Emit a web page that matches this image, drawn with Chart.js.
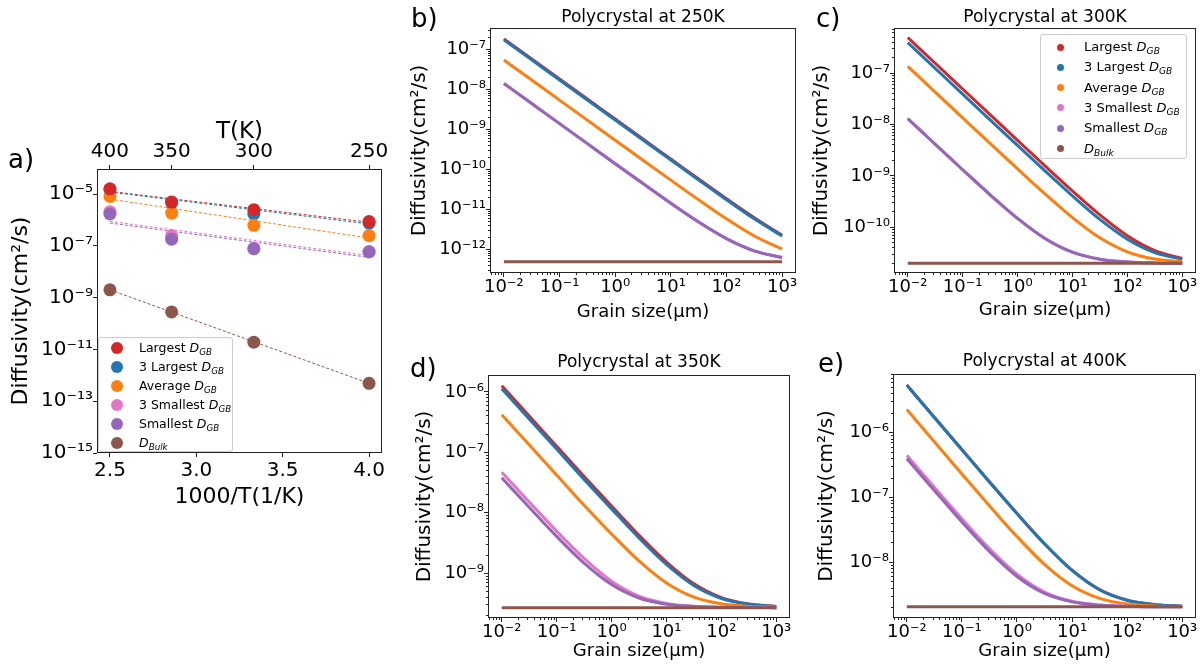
<!DOCTYPE html>
<html>
<head>
<meta charset="utf-8">
<script src="https://cdn.jsdelivr.net/npm/chart.js@4.4.1/dist/chart.umd.min.js"></script>
<style>
  body { margin: 0; background: #fff; width: 1204px; height: 672px; overflow: hidden; position: relative; font-family: "DejaVu Sans", sans-serif; }
  canvas { position: absolute; }
  .tag { position: absolute; font-size: 26px; line-height: 26px; color: #000; }
  .legend { position: absolute; box-sizing: border-box; background: rgba(255,255,255,0.8); border: 1px solid #ccc; border-radius: 3px; }
  .legend .row { position: absolute; white-space: nowrap; color: #000; }
  .legend .dot { position: absolute; border-radius: 50%; }
  .legend sub { font-size: 0.7em; vertical-align: -0.3em; line-height: 0; }
</style>
</head>
<body>
<canvas id="chartA" width="400" height="420" style="left:0;top:100px"></canvas>
<canvas id="chartB" width="400" height="330" style="left:400px;top:0"></canvas>
<canvas id="chartC" width="404" height="330" style="left:800px;top:0"></canvas>
<canvas id="chartD" width="400" height="342" style="left:400px;top:330px"></canvas>
<canvas id="chartE" width="404" height="342" style="left:800px;top:330px"></canvas>

<div class="tag" style="left:8px;top:146px">a)</div>
<div class="tag" style="left:411px;top:5px">b)</div>
<div class="tag" style="left:816px;top:5px">c)</div>
<div class="tag" style="left:410px;top:355px">d)</div>
<div class="tag" style="left:818px;top:350px">e)</div>

<div class="legend" id="legendA" style="left:98px;top:337px;width:135px;height:115px"></div>
<div class="legend" id="legendC" style="left:1040px;top:34px;width:147px;height:125px"></div>

<script>
// ═══════════════════════════════════════
// Diffusivity figure: Arrhenius plot (a) and
// grain-size dependence at 4 temperatures (b-e)
// ═══════════════════════════════════════

Chart.defaults.font.family = "'DejaVu Sans', sans-serif";
Chart.defaults.color = "#000";

// Series styling (matplotlib tab10 order)
let seriesColors = ["#d62728", "#1f77b4", "#ff7f0e", "#e377c2", "#9467bd", "#8c564b"];
let legendNames = ["Largest ", "3 Largest ", "Average ", "3 Smallest ", "Smallest ", ""];
let legendSubs = ["GB", "GB", "GB", "GB", "GB", "Bulk"];

// ── Panel a: D vs 1000/T ──
let invT = [2.5, 2.857, 3.333, 4.0];
let tempLabels = ["400", "350", "300", "250"];
let aLargest = [1.6e-5, 4.9e-6, 2.5e-6, 8.7e-7];
let a3Largest = [1.5e-5, 4.7e-6, 1.7e-6, 7.6e-7];
let aAverage = [8.1e-6, 1.85e-6, 6.2e-7, 2.5e-7];
let a3Smallest = [2.1e-6, 2.5e-7, 8.0e-8, 6.0e-8];
let aSmallest = [1.7e-6, 1.8e-7, 7.8e-8, 5.8e-8];
let aBulk = [2.0e-9, 2.8e-10, 1.9e-11, 4.9e-13];

// dashed fits, drawn between the end temperatures
let fitX = [2.5, 4.0];
let fitLargest = [1.27e-5, 8.1e-7];
let fit3Largest = [1.2e-5, 7.0e-7];
let fitAverage = [6.4e-6, 2.0e-7];
let fit3Smallest = [8.8e-7, 4.2e-8];
let fitSmallest = [7.6e-7, 3.6e-8];
let fitBulk = [2.0e-9, 4.9e-13];

let aXTicks = [2.5, 3.0, 3.5, 4.0];
let aXLabels = ["2.5", "3.0", "3.5", "4.0"];
let aYTicks = [1e-15, 1e-13, 1e-11, 1e-9, 1e-7, 1e-5];
let aYLabels = ["10⁻¹⁵", "10⁻¹³", "10⁻¹¹", "10⁻⁹", "10⁻⁷", "10⁻⁵"];

// ── Panels b-e: D vs grain size ──
let grainSize = [0.01, 0.0316, 0.1, 0.316, 1, 3.16, 10, 31.6, 100, 316, 1000];
let gsTicks = [1e-2, 1e-1, 1, 10, 100, 1000];
let gsLabels = ["10⁻²", "10⁻¹", "10⁰", "10¹", "10²", "10³"];

// 250 K
let bLargest = [1.82e-7, 5.76e-8, 1.82e-8, 5.76e-9, 1.82e-9, 5.76e-10, 1.83e-10, 5.8e-11, 1.87e-11, 6.3e-12, 2.3e-12];
let b3Largest = [1.72e-7, 5.44e-8, 1.72e-8, 5.44e-9, 1.72e-9, 5.45e-10, 1.73e-10, 5.5e-11, 1.77e-11, 5.9e-12, 2.2e-12];
let bAverage = [5.4e-8, 1.71e-8, 5.4e-9, 1.71e-9, 5.4e-10, 1.71e-10, 5.45e-11, 1.76e-11, 5.9e-12, 2.2e-12, 1.04e-12];
let b3Smallest = [1.4e-8, 4.43e-9, 1.4e-9, 4.43e-10, 1.4e-10, 4.48e-11, 1.45e-11, 4.93e-12, 1.9e-12, 9.4e-13, 6.4e-13];
let bSmallest = [1.4e-8, 4.43e-9, 1.4e-9, 4.43e-10, 1.4e-10, 4.48e-11, 1.45e-11, 4.93e-12, 1.9e-12, 9.4e-13, 6.4e-13];
let bBulk = [5e-13, 5e-13, 5e-13, 5e-13, 5e-13, 5e-13, 5e-13, 5e-13, 5e-13, 5e-13, 5e-13];
let bYTicks = [1e-12, 1e-11, 1e-10, 1e-9, 1e-8, 1e-7];
let bYLabels = ["10⁻¹²", "10⁻¹¹", "10⁻¹⁰", "10⁻⁹", "10⁻⁸", "10⁻⁷"];

// 300 K
let cLargest = [4.9e-7, 1.55e-7, 4.9e-8, 1.55e-8, 4.92e-9, 1.57e-9, 5.1e-10, 1.75e-10, 6.9e-11, 3.55e-11, 2.49e-11];
let c3Largest = [3.9e-7, 1.23e-7, 3.9e-8, 1.23e-8, 3.92e-9, 1.25e-9, 4.1e-10, 1.43e-10, 5.9e-11, 3.23e-11, 2.39e-11];
let cAverage = [1.35e-7, 4.27e-8, 1.35e-8, 4.29e-9, 1.37e-9, 4.47e-10, 1.55e-10, 6.27e-11, 3.35e-11, 2.43e-11, 2.14e-11];
let c3Smallest = [1.3e-8, 4.13e-9, 1.32e-9, 4.31e-10, 1.5e-10, 6.11e-11, 3.3e-11, 2.41e-11, 2.13e-11, 2.04e-11, 2.01e-11];
let cSmallest = [1.3e-8, 4.13e-9, 1.32e-9, 4.31e-10, 1.5e-10, 6.11e-11, 3.3e-11, 2.41e-11, 2.13e-11, 2.04e-11, 2.01e-11];
let cBulk = [2e-11, 2e-11, 2e-11, 2e-11, 2e-11, 2e-11, 2e-11, 2e-11, 2e-11, 2e-11, 2e-11];
let cYTicks = [1e-10, 1e-9, 1e-8, 1e-7];
let cYLabels = ["10⁻¹⁰", "10⁻⁹", "10⁻⁸", "10⁻⁷"];

// 350 K
let dLargest = [1.26e-6, 3.98e-7, 1.26e-7, 3.98e-8, 1.29e-8, 4.25e-9, 1.53e-9, 6.68e-10, 3.96e-10, 3.1e-10, 2.83e-10];
let d3Largest = [1.13e-6, 3.57e-7, 1.13e-7, 3.57e-8, 1.16e-8, 3.84e-9, 1.4e-9, 6.27e-10, 3.83e-10, 3.06e-10, 2.81e-10];
let dAverage = [4.2e-7, 1.33e-7, 4.2e-8, 1.33e-8, 4.47e-9, 1.6e-9, 6.9e-10, 4.03e-10, 3.12e-10, 2.83e-10, 2.74e-10];
let d3Smallest = [4.7e-8, 1.51e-8, 4.97e-9, 1.76e-9, 7.4e-10, 4.19e-10, 3.17e-10, 2.85e-10, 2.75e-10, 2.71e-10, 2.7e-10];
let dSmallest = [3.8e-8, 1.23e-8, 4.07e-9, 1.47e-9, 6.5e-10, 3.9e-10, 3.08e-10, 2.82e-10, 2.74e-10, 2.71e-10, 2.7e-10];
let dBulk = [2.7e-10, 2.7e-10, 2.7e-10, 2.7e-10, 2.7e-10, 2.7e-10, 2.7e-10, 2.7e-10, 2.7e-10, 2.7e-10, 2.7e-10];
let dYTicks = [1e-9, 1e-8, 1e-7, 1e-6];
let dYLabels = ["10⁻⁹", "10⁻⁸", "10⁻⁷", "10⁻⁶"];

// 400 K
let eLargest = [5.5e-6, 1.74e-6, 5.52e-7, 1.76e-7, 5.7e-8, 1.94e-8, 7.55e-9, 3.79e-9, 2.6e-9, 2.22e-9, 2.1e-9];
let e3Largest = [5.45e-6, 1.72e-6, 5.47e-7, 1.74e-7, 5.65e-8, 1.93e-8, 7.5e-9, 3.77e-9, 2.6e-9, 2.22e-9, 2.1e-9];
let eAverage = [2.3e-6, 7.29e-7, 2.32e-7, 7.48e-8, 2.5e-8, 9.32e-9, 4.35e-9, 2.78e-9, 2.28e-9, 2.12e-9, 2.07e-9];
let e3Smallest = [4.5e-7, 1.44e-7, 4.7e-8, 1.63e-8, 6.55e-9, 3.47e-9, 2.5e-9, 2.19e-9, 2.1e-9, 2.06e-9, 2.05e-9];
let eSmallest = [4.0e-7, 1.29e-7, 4.2e-8, 1.47e-8, 6.05e-9, 3.31e-9, 2.45e-9, 2.18e-9, 2.09e-9, 2.06e-9, 2.05e-9];
let eBulk = [2.05e-9, 2.05e-9, 2.05e-9, 2.05e-9, 2.05e-9, 2.05e-9, 2.05e-9, 2.05e-9, 2.05e-9, 2.05e-9, 2.05e-9];
let eYTicks = [1e-8, 1e-7, 1e-6];
let eYLabels = ["10⁻⁸", "10⁻⁷", "10⁻⁶"];

// ── helpers ──

// black box around the plot area (all four spines)
let frameBox = {
  id: "frameBox",
  afterDatasetsDraw(chart) {
    let a = chart.chartArea;
    let ctx = chart.ctx;
    ctx.save();
    ctx.strokeStyle = "#222";
    ctx.lineWidth = 1;
    ctx.strokeRect(Math.round(a.left) + 0.5, Math.round(a.top) + 0.5,
      Math.round(a.right - a.left) - 1, Math.round(a.bottom - a.top) - 1);
    ctx.restore();
  },
};

// tick list: labelled majors plus optional log minors (2..9 per decade)
function buildTicks(values, labels, min, max, withMinor) {
  let out = [];
  values.forEach(function (v, i) {
    if (v >= min * 0.999 && v <= max * 1.001) out.push({ value: v, major: true, text: labels[i] });
  });
  if (withMinor) {
    let lo = Math.floor(Math.log10(min));
    let hi = Math.ceil(Math.log10(max));
    for (let e = lo; e < hi; e++) {
      for (let m = 2; m <= 9; m++) {
        let v = m * Math.pow(10, e);
        if (v >= min && v <= max) out.push({ value: v, major: false, text: "" });
      }
    }
  }
  return out.sort(function (p, q) { return p.value - q.value; });
}

// axis config shared by every panel
function axisOptions(o) {
  let isLeft = o.position === "left";
  return {
    type: o.type,
    position: o.position,
    min: o.min,
    max: o.max,
    afterBuildTicks: function (s) { s.ticks = buildTicks(o.ticks, o.labels, o.min, o.max, o.minor); },
    afterFit: function (s) {
      if (isLeft) s.width = o.size;
      else s.height = o.size;
    },
    ticks: {
      autoSkip: false,
      maxRotation: 0,
      minRotation: 0,
      padding: o.tickPad,
      font: { size: o.tickFont },
      color: "#000",
      callback: function (v, i, ticks) { return ticks[i].text; },
    },
    grid: {
      drawOnChartArea: false,
      tickLength: 4,
      tickColor: "#222",
      tickWidth: 1,
      tickBorderDash: function (ctx) {
        if (!ctx.tick || ctx.tick.major) return [];
        return isLeft ? [0, 2, 2, 20] : [2, 20];
      },
    },
    border: { display: false },
    title: {
      display: !!o.title,
      text: o.title,
      font: { size: o.titleFont },
      color: "#000",
      padding: { top: o.titleTop || 0, bottom: o.titleBottom || 0 },
    },
  };
}

// HTML legend (needs subscripts, so not the Chart.js one)
function buildLegend(id, o) {
  let box = document.getElementById(id);
  legendNames.forEach(function (name, i) {
    let cy = o.firstRow + o.rowStep * i;
    let dot = document.createElement("div");
    dot.className = "dot";
    dot.style.width = o.dot + "px";
    dot.style.height = o.dot + "px";
    dot.style.left = (o.dotX - o.dot / 2) + "px";
    dot.style.top = (cy - o.dot / 2) + "px";
    dot.style.background = seriesColors[i];
    box.appendChild(dot);

    let row = document.createElement("div");
    row.className = "row";
    row.style.left = o.textX + "px";
    row.style.top = (cy - 9) + "px";
    row.style.lineHeight = "18px";
    row.style.fontSize = o.font + "px";
    row.innerHTML = name + "<i>D<sub>" + legendSubs[i] + "</sub></i>";
    box.appendChild(row);
  });
}

// ── Panel a ──
function drawArrhenius() {
  let points = [aLargest, a3Largest, aAverage, a3Smallest, aSmallest, aBulk];
  let fits = [fitLargest, fit3Largest, fitAverage, fit3Smallest, fitSmallest, fitBulk];
  let pointOrder = [0, 5, 4, 3, 1, 2];
  let datasets = [];

  points.forEach(function (vals, i) {
    datasets.push({
      data: invT.map(function (x, k) { return { x: x, y: vals[k] }; }),
      backgroundColor: seriesColors[i],
      borderWidth: 0,
      pointRadius: 6.5,
      order: pointOrder[i],
    });
  });
  fits.forEach(function (vals, i) {
    datasets.push({
      data: fitX.map(function (x, k) { return { x: x, y: vals[k] }; }),
      showLine: true,
      borderColor: seriesColors[i],
      borderWidth: 1,
      borderDash: [3, 2],
      pointRadius: 0,
      order: 20 - i,
    });
  });

  return new Chart(document.getElementById("chartA"), {
    type: "scatter",
    data: { datasets: datasets },
    options: {
      responsive: false,
      animation: false,
      events: [],
      layout: { padding: { left: 0, right: 18, top: 0, bottom: 0 } },
      plugins: { legend: { display: false }, tooltip: { enabled: false } },
      scales: {
        x: axisOptions({ type: "linear", position: "bottom", min: 2.425, max: 4.075,
          ticks: aXTicks, labels: aXLabels, size: 67, tickPad: 2, tickFont: 20,
          title: "1000/T(1/K)", titleFont: 22, titleBottom: 10 }),
        x2: axisOptions({ type: "linear", position: "top", min: 2.425, max: 4.075,
          ticks: invT, labels: tempLabels, size: 69, tickPad: 1, tickFont: 20,
          title: "T(K)", titleFont: 23, titleTop: 18.7 }),
        y: axisOptions({ type: "logarithmic", position: "left", min: 1e-15, max: 9.3e-5,
          ticks: aYTicks, labels: aYLabels, size: 97, tickPad: 0, tickFont: 20,
          title: "Diffusivity(cm²/s)", titleFont: 22, titleTop: 8.5 }),
      },
    },
    plugins: [frameBox],
  });
}

// ── Panels b-e ──
function drawGrainPanel(canvasId, p) {
  let datasets = p.series.map(function (vals, i) {
    return {
      data: grainSize.map(function (g, k) { return { x: g, y: vals[k] }; }),
      borderColor: seriesColors[i],
      backgroundColor: seriesColors[i],
      borderWidth: 3,
      pointRadius: 0,
      cubicInterpolationMode: "monotone",
      order: 5 - i,
    };
  });

  return new Chart(document.getElementById(canvasId), {
    type: "line",
    data: { datasets: datasets },
    options: {
      responsive: false,
      animation: false,
      events: [],
      layout: { padding: { left: 0, right: p.padRight, top: 0, bottom: 0 } },
      plugins: {
        legend: { display: false },
        tooltip: { enabled: false },
        title: {
          display: true,
          text: p.title,
          fullSize: false,
          color: "#000",
          font: { size: 17, weight: "normal" },
          padding: { top: p.titleTop, bottom: p.titleBottom },
        },
      },
      scales: {
        x: axisOptions({ type: "logarithmic", position: "bottom", min: 0.00562, max: 1778,
          ticks: gsTicks, labels: gsLabels, minor: true, size: p.xSize, tickPad: 0, tickFont: 18,
          title: "Grain size(μm)", titleFont: 18, titleBottom: p.xTitlePad }),
        y: axisOptions({ type: "logarithmic", position: "left", min: p.yMin, max: p.yMax,
          ticks: p.yTicks, labels: p.yLabels, minor: true, size: p.ySize, tickPad: 0, tickFont: 18,
          title: "Diffusivity(cm²/s)", titleFont: 20, titleTop: p.yTitlePad }),
      },
    },
    plugins: [frameBox],
  });
}

drawArrhenius();

drawGrainPanel("chartB", {
  title: "Polycrystal at 250K",
  series: [bLargest, b3Largest, bAverage, b3Smallest, bSmallest, bBulk],
  yMin: 2.63e-13, yMax: 3.4e-7, yTicks: bYTicks, yLabels: bYLabels,
  ySize: 90, xSize: 57, padRight: 4, titleTop: 7.6, titleBottom: 0, xTitlePad: 7.2, yTitlePad: 8,
});

drawGrainPanel("chartC", {
  title: "Polycrystal at 300K",
  series: [cLargest, c3Largest, cAverage, c3Smallest, cSmallest, cBulk],
  yMin: 1.3e-11, yMax: 7.5e-7, yTicks: cYTicks, yLabels: cYLabels,
  ySize: 94, xSize: 57, padRight: 8, titleTop: 7.5, titleBottom: 0.1, xTitlePad: 8.5, yTitlePad: 10,
});

drawGrainPanel("chartD", {
  title: "Polycrystal at 350K",
  series: [dLargest, d3Largest, dAverage, d3Smallest, dSmallest, dBulk],
  yMin: 1.82e-10, yMax: 1.9e-6, yTicks: dYTicks, yLabels: dYLabels,
  ySize: 88, xSize: 54, padRight: 10, titleTop: 22.8, titleBottom: 1.8, xTitlePad: 9.8, yTitlePad: 13,
});

drawGrainPanel("chartE", {
  title: "Polycrystal at 400K",
  series: [eLargest, e3Largest, eAverage, e3Smallest, eSmallest, eBulk],
  yMin: 1.38e-9, yMax: 8.1e-6, yTicks: eYTicks, yLabels: eYLabels,
  ySize: 93, xSize: 54, padRight: 8, titleTop: 21.8, titleBottom: 1.8, xTitlePad: 9.8, yTitlePad: 15,
});

buildLegend("legendA", { firstRow: 10, rowStep: 19, dot: 12, dotX: 18, textX: 40, font: 12.5 });
buildLegend("legendC", { firstRow: 12, rowStep: 20.3, dot: 7, dotX: 19, textX: 43, font: 13 });
</script>
</body>
</html>
